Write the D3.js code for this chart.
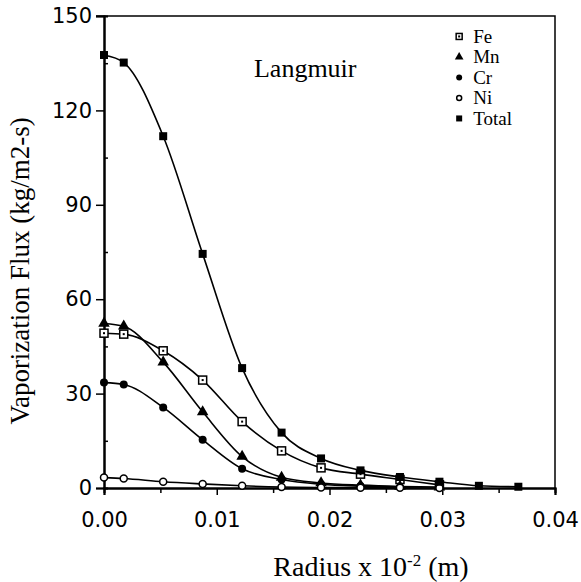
<!DOCTYPE html>
<html>
<head>
<meta charset="utf-8">
<script src="https://cdn.jsdelivr.net/npm/d3@7"></script>
<style>
  html, body { margin: 0; padding: 0; background: #fff; }
  svg { display: block; }
  .tick-label { font-family: "DejaVu Sans", sans-serif; font-size: 21px; fill: #000; }
  .serif { font-family: "Liberation Serif", "Times New Roman", serif; fill: #000; }
</style>
</head>
<body>
<svg id="chart" width="581" height="582"></svg>
<script>
// radius values (x 10^-2 m)
const radius = [0, 0.00175, 0.00525, 0.00875, 0.01225, 0.01575, 0.01925, 0.02275, 0.02625, 0.02975, 0.03325, 0.03675];

// vaporization flux (kg/m2-s)
const feFlux = [49.2, 48.9, 43.6, 34.3, 21.1, 11.8, 6.4, 4.4, 2.7, 1.0];
const mnFlux = [52.3, 51.4, 40.0, 24.2, 10.0, 3.4, 1.6, 0.9, 0.5, 0.3];
const crFlux = [33.5, 32.9, 25.6, 15.3, 6.1, 2.7, 1.2, 0.6, 0.3];
const niFlux = [3.3, 3.0, 2.0, 1.3, 0.7, 0.3, 0.15, 0.1, 0.05, 0.02];
const totalFlux = [137.6, 135.2, 111.8, 74.4, 38.1, 17.6, 9.4, 5.6, 3.5, 2.0, 0.7, 0.4];

const seriesNames = ["Fe", "Mn", "Cr", "Ni", "Total"];
const seriesValues = [feFlux, mnFlux, crFlux, niFlux, totalFlux];

const xTicks = [0, 0.01, 0.02, 0.03, 0.04];
const xMinorTicks = [0.005, 0.015, 0.025, 0.035];
const yTicks = [0, 30, 60, 90, 120, 150];
const yMinorTicks = [15, 45, 75, 105, 135];

const svg = d3.select("#chart");
const margin = { top: 16, right: 26, bottom: 94, left: 104 };
const width = 581 - margin.left - margin.right;
const height = 582 - margin.top - margin.bottom;

const g = svg.append("g").attr("transform", `translate(${margin.left},${margin.top})`);

const x = d3.scaleLinear().domain([0, 0.04]).range([0, width]);
const y = d3.scaleLinear().domain([0, 150]).range([height, 0]);

// frame (top and right)
g.append("path")
  .attr("d", `M${-8},0H${width}V${height}`)
  .attr("fill", "none")
  .attr("stroke", "#000")
  .attr("stroke-width", 1.5);

// axes
const xAxis = d3.axisBottom(x).tickValues(xTicks).tickFormat(d3.format(".2f")).tickSize(7).tickPadding(17);
const xMinor = d3.axisBottom(x).tickValues(xMinorTicks).tickFormat("").tickSize(5);
const yAxis = d3.axisLeft(y).tickValues(yTicks).tickFormat(d3.format("d")).tickSize(8).tickPadding(4);
const yMinor = d3.axisLeft(y).tickValues(yMinorTicks).tickFormat("").tickSize(-4);

const styleAxis = (sel) => {
  sel.select(".domain").attr("stroke", "#000").attr("stroke-width", 2);
  sel.selectAll(".tick line").attr("stroke", "#000").attr("stroke-width", 1.5);
  sel.selectAll(".tick text").attr("class", "tick-label").attr("font-family", null).attr("font-size", null);
};

g.append("g").attr("transform", `translate(0,${height})`).call(xMinor).call(styleAxis);
g.append("g").attr("transform", `translate(0,${height})`).call(xAxis).call(styleAxis);
g.append("g").call(yMinor).call(styleAxis);
g.append("g").call(yAxis).call(styleAxis);

// curves
const line = d3.line()
  .x((d) => x(d.r))
  .y((d) => y(d.v))
  .curve(d3.curveMonotoneX);

const seriesData = seriesValues.map((vals, i) => ({
  name: seriesNames[i],
  points: vals.map((v, j) => ({ r: radius[j], v })),
}));

g.selectAll(".curve")
  .data(seriesData)
  .enter()
  .append("path")
  .attr("class", "curve")
  .attr("d", (d) => line(d.points))
  .attr("fill", "none")
  .attr("stroke", "#000")
  .attr("stroke-width", 1.6);

// markers
const drawMarker = (sel, name, size) => {
  if (name === "Fe") {
    sel.append("rect").attr("x", -size / 2).attr("y", -size / 2).attr("width", size).attr("height", size)
      .attr("fill", "#fff").attr("stroke", "#000").attr("stroke-width", 1.5);
    sel.append("rect").attr("x", -1).attr("y", -1).attr("width", 2).attr("height", 2).attr("fill", "#000");
  } else if (name === "Mn") {
    sel.append("path").attr("d", d3.symbol(d3.symbolTriangle, size * size * 0.9)()).attr("fill", "#000");
  } else if (name === "Cr") {
    sel.append("circle").attr("r", size / 2).attr("fill", "#000");
  } else if (name === "Ni") {
    sel.append("circle").attr("r", size / 2 - 0.5).attr("fill", "#fff").attr("stroke", "#000").attr("stroke-width", 1.5);
  } else {
    sel.append("rect").attr("x", -size / 2).attr("y", -size / 2).attr("width", size).attr("height", size).attr("fill", "#000");
  }
};

seriesData.forEach((s) => {
  g.append("g")
    .selectAll("g")
    .data(s.points)
    .enter()
    .append("g")
    .attr("transform", (d) => `translate(${x(d.r)},${y(d.v)})`)
    .each(function () { drawMarker(d3.select(this), s.name, 8); });
});

// legend
const legend = g.append("g").attr("transform", `translate(${x(0.0315)},${y(143.5)})`);
seriesNames.forEach((name, i) => {
  const row = legend.append("g").attr("transform", `translate(0,${i * 20.5})`);
  row.append("g").each(function () { drawMarker(d3.select(this), name, 6); });
  row.append("text").attr("class", "serif").attr("x", 14).attr("y", 6.5).attr("font-size", 19).text(name);
});

// annotation
g.append("text").attr("class", "serif").attr("x", x(0.0133)).attr("y", y(130.5))
  .attr("font-size", 26).text("Langmuir");

// axis titles
const xTitle = svg.append("text").attr("class", "serif")
  .attr("x", 371).attr("y", 576)
  .attr("text-anchor", "middle").attr("font-size", 28);
xTitle.append("tspan").text("Radius x 10");
xTitle.append("tspan").attr("font-size", 17).attr("dy", -10).text("-2");
xTitle.append("tspan").attr("dy", 10).text(" (m)");

svg.append("text").attr("class", "serif")
  .attr("transform", `translate(29,${y(69) + margin.top}) rotate(-90)`)
  .attr("text-anchor", "middle").attr("font-size", 27)
  .text("Vaporization Flux (kg/m2-s)");
</script>
</body>
</html>
